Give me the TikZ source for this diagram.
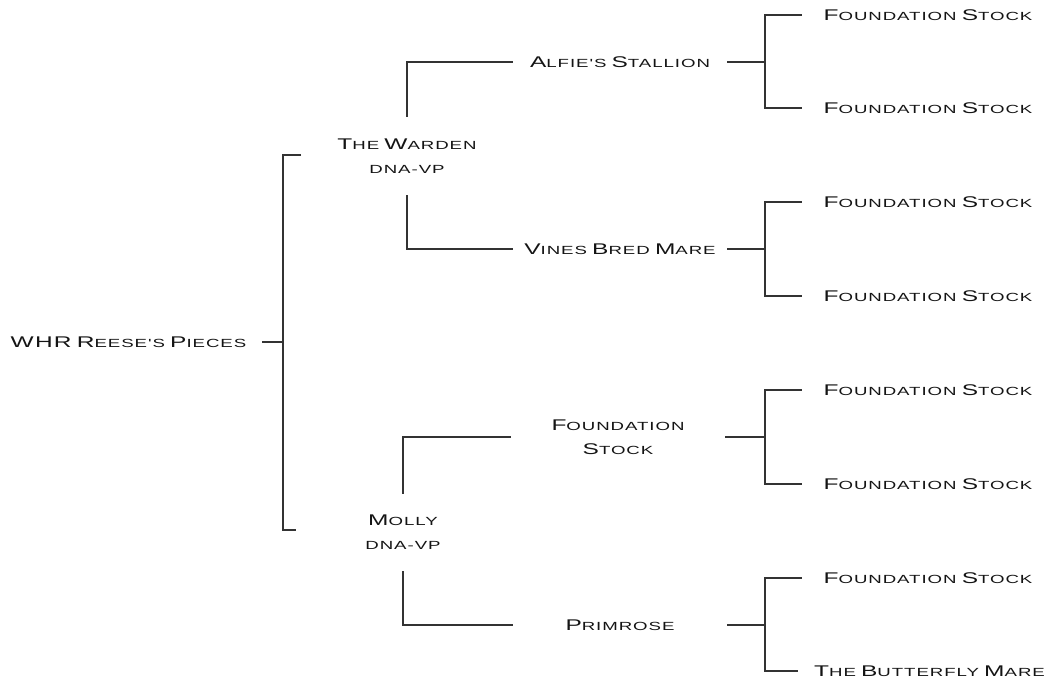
\documentclass[tikz,border=0pt]{standalone}
\usepackage{fontspec}
\newfontfamily\cpfont[FakeStretch=1.58,LetterSpace=8]{Liberation Sans}
\newcommand\Bg[1]{{\fontsize{15.5}{18}\selectfont #1}}
\newcommand\Sm[1]{{\fontsize{11.8}{14}\selectfont #1}}
\begin{document}
\begin{tikzpicture}[x=1pt,y=-1pt,
  lbl/.style={font=\cpfont, text=black!92, inner sep=0pt, align=center},
  link/.style={draw=black!80, line width=1.3pt}]
\useasboundingbox (0,0) rectangle (1047,683);
% root
\node[lbl, minimum width=267pt] (root) at (128.5,342) {\Bg{WHR} \Bg{R}\Sm{EESE'S} \Bg{P}\Sm{IECES}};
% parents
\node[lbl, minimum height=78pt] (warden) at (407,156) {\Bg{T}\Sm{HE} \Bg{W}\Sm{ARDEN}\\[12pt]\Sm{DNA-VP}};
\node[lbl, minimum height=77pt] (molly) at (403,532.5) {\Bg{M}\Sm{OLLY}\\[12pt]\Sm{DNA-VP}};
% grandparents
\node[lbl, minimum width=214pt] (alfie) at (620,62) {\Bg{A}\Sm{LFIE'S} \Bg{S}\Sm{TALLION}};
\node[lbl, minimum width=214pt] (vines) at (620,249) {\Bg{V}\Sm{INES} \Bg{B}\Sm{RED} \Bg{M}\Sm{ARE}};
\node[lbl, minimum width=214pt] (fmid) at (618,437) {\Bg{F}\Sm{OUNDATION}\\[12pt]\Bg{S}\Sm{TOCK}};
\node[lbl, minimum width=214pt] (prim) at (620,625) {\Bg{P}\Sm{RIMROSE}};
% great-grandparents
\foreach \n/\y in {f1/15,f2/108,f3/202,f4/296,f5/390,f6/484,f7/578}{
  \node[lbl, minimum width=252pt] (\n) at (928,\y) {\Bg{F}\Sm{OUNDATION} \Bg{S}\Sm{TOCK}};
}
\node[lbl, minimum width=263pt] (bfly) at (929.5,671) {\Bg{T}\Sm{HE} \Bg{B}\Sm{UTTERFLY} \Bg{M}\Sm{ARE}};
% junctions
\coordinate (j0) at (283,342);
\coordinate (wt) at (301,155);
\coordinate (mt) at (296,530);
\coordinate (ja) at (765,62);
\coordinate (jv) at (765,249);
\coordinate (jf) at (765,437);
\coordinate (jp) at (765,625);
% connectors
\draw[link] (root.east) -- (j0);
\draw[link] (wt) -| (j0) |- (mt);
\draw[link] (warden.north) |- (alfie.west);
\draw[link] (warden.south) |- (vines.west);
\draw[link] (molly.north) |- (fmid.west);
\draw[link] (molly.south) |- (prim.west);
\draw[link] (alfie.east) -- (ja);
\draw[link] (f1.west) -| (ja) |- (f2.west);
\draw[link] (vines.east) -- (jv);
\draw[link] (f3.west) -| (jv) |- (f4.west);
\draw[link] (fmid.east) -- (jf);
\draw[link] (f5.west) -| (jf) |- (f6.west);
\draw[link] (prim.east) -- (jp);
\draw[link] (f7.west) -| (jp) |- (bfly.west);
\end{tikzpicture}
\end{document}
